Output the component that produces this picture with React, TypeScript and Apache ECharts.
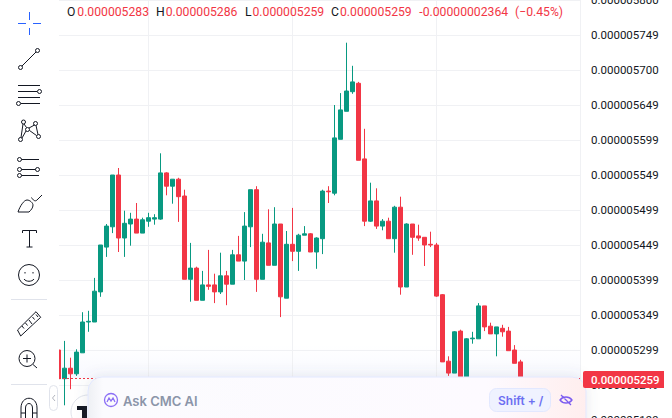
import * as echarts from 'echarts';
import React, { useEffect, useRef } from 'react';

// prices are in units of 0.000000001
const opens = [
  5300, 5259, 5274, 5266, 5296, 5340, 5340, 5383, 5447, 5476, 5550, 5460, 5480, 5487, 5467, 5484,
  5487, 5487, 5553, 5534, 5544, 5520, 5401, 5417, 5371, 5393, 5393, 5383, 5406, 5394, 5436, 5427,
  5476, 5529, 5401, 5453, 5421, 5480, 5374, 5451, 5441, 5464, 5466, 5440, 5459, 5527, 5524, 5601,
  5641, 5669, 5681, 5573, 5484, 5513, 5477, 5484, 5459, 5504, 5390, 5480, 5463, 5461, 5451, 5450,
  5379, 5284, 5267, 5327, 5261, 5316, 5316, 5363, 5334, 5323, 5331, 5327, 5300, 5283,
];
const closes = [
  5259, 5274, 5266, 5297, 5340, 5341, 5384, 5450, 5477, 5550, 5460, 5481, 5487, 5467, 5486, 5489,
  5489, 5553, 5534, 5544, 5519, 5401, 5417, 5371, 5393, 5391, 5383, 5406, 5394, 5436, 5427, 5477,
  5529, 5401, 5454, 5421, 5480, 5376, 5451, 5441, 5464, 5466, 5440, 5460, 5527, 5526, 5603, 5643,
  5670, 5683, 5571, 5484, 5513, 5477, 5484, 5459, 5504, 5390, 5480, 5461, 5460, 5450, 5450, 5377,
  5283, 5267, 5326, 5261, 5316, 5317, 5363, 5333, 5323, 5333, 5326, 5299, 5281, 5259,
];
const lows = [
  5258, 5221, 5244, 5263, 5296, 5326, 5340, 5376, 5433, 5467, 5440, 5433, 5449, 5467, 5467, 5476,
  5479, 5486, 5521, 5509, 5483, 5401, 5369, 5371, 5371, 5386, 5367, 5380, 5364, 5394, 5427, 5400,
  5447, 5383, 5401, 5421, 5421, 5347, 5374, 5427, 5413, 5464, 5440, 5416, 5437, 5510, 5521, 5601,
  5641, 5666, 5571, 5477, 5483, 5473, 5471, 5459, 5439, 5379, 5390, 5436, 5456, 5420, 5447, 5376,
  5283, 5263, 5267, 5260, 5260, 5309, 5316, 5327, 5323, 5291, 5319, 5299, 5281, 5259,
];
const highs = [
  5300, 5313, 5289, 5301, 5354, 5356, 5403, 5450, 5480, 5550, 5560, 5499, 5496, 5510, 5489, 5496,
  5494, 5581, 5554, 5544, 5546, 5529, 5453, 5419, 5413, 5443, 5409, 5439, 5413, 5443, 5463, 5497,
  5529, 5534, 5466, 5501, 5504, 5480, 5470, 5503, 5466, 5477, 5467, 5461, 5529, 5534, 5650, 5667,
  5739, 5706, 5683, 5616, 5539, 5531, 5487, 5489, 5506, 5519, 5481, 5480, 5479, 5461, 5469, 5453,
  5380, 5291, 5327, 5329, 5317, 5326, 5367, 5363, 5339, 5333, 5336, 5333, 5307, 5286,
];
const yTickLabels = [
  '0.000005800', '0.000005749', '0.000005700', '0.000005649', '0.000005599', '0.000005549', '0.000005499',
  '0.000005449', '0.000005399', '0.000005349', '0.000005299', '0.000005249', '0.000005199',
];
const timeLines = [15, 39, 63];
const lastPrice = 5259;
const legendItems = [
  { key: 'O', value: '0.000005283', x: 67, valueX: 77.3 },
  { key: 'H', value: '0.000005286', x: 156, valueX: 165.7 },
  { key: 'L', value: '0.000005259', x: 245, valueX: 252.5 },
  { key: 'C', value: '0.000005259', x: 331, valueX: 340 },
];
const changeText = '-0.00000002364';
const changePct = '(−0.45%)';

const GREEN = '#089981';
const RED = '#f23645';
const INK = '#131722';
const GRID = '#f0f1f4';
const FONT = 'Roboto';

const ring = (cx: number, cy: number, r: number) =>
  `M${cx - r} ${cy}a${r} ${r} 0 1 0 ${2 * r} 0a${r} ${r} 0 1 0 ${-2 * r} 0`;

const iconPaths: Record<string, string> = {
  tvCross: 'M18 23.5H26M33 23.5H41M29.5 12V20M29.5 28V35',
  tvTrend: `${ring(20.5, 67.5, 2)}${ring(37.5, 50.5, 2)}M22 66L36 52`,
  tvLines: `M18 85.5H40M18 91.5H37M18 97.5H40M21 103.5H40${ring(39.5, 91.5, 2)}${ring(18.5, 103.5, 2)}`,
  tvPattern: `${ring(23.5, 122, 2)}${ring(35.5, 123.5, 2)}${ring(20.5, 139.5, 2)}${ring(38.5, 136.5, 2)}${ring(27.5, 129.5, 2)}M23 124L21 137.5M24 124L26.5 127.5M29 128L34.5 125M36 125.5L38 134.5M29.5 130.5L36.5 135.5M22 138L26 131`,
  tvFib: `${ring(19.5, 159.5, 2)}${ring(19.5, 169.5, 2)}${ring(19.5, 175.5, 2)}${ring(37.5, 169.5, 2)}M21.5 159.5H39M21.5 169.5H35.5M21.5 175.5H39`,
  tvBrush: 'M18 212C20 206 24 200 27 200C30 200 33 203 33 205C33 208 31 210 29 212ZM31.5 197.5C33 200 35 202 37 200L42 195',
  tvText: 'M22.5 233V230.5H36.5V233M29.5 230.5V247M26.5 247H32.5',
  tvSmile: `${ring(29, 275, 10.5)}M24 279C26 282 32 282 34 279M25 272V273.5M33 272V273.5`,
  tvRuler: 'M17.5 330L36 311.7L40.7 317.3L20.7 336ZM22 326L24 328.5M25.5 323L27.5 325.5M29 320L32 324M32.5 317L34.5 319.5M36 314.5L38 317',
  tvZoom: `${ring(27, 358.5, 8)}M33 364.5L37 368M27 354.5V362.5M23 358.5H31`,
  tvMagnet: 'M21 418V408C21 395 37 395 37 408V418M21 413H25.5M32.5 413H37M25.5 418V408C25.5 402 32.5 402 32.5 408V418',
  cmcEye: 'M560 400C563 396 569 396 572 400C569 404 563 404 560 400ZM561 395L571 405',
  cmcBubble: `${ring(111, 400, 6.5)}M107 402L109 398L111 401L113 398L115 402`,
};
Object.keys(iconPaths).forEach((name) => {
  echarts.graphic.registerShape(name, echarts.graphic.extendPath(iconPaths[name], {}));
});

const legendGraphics = legendItems.flatMap((item) => [
  {
    type: 'text', x: item.x, y: 12, z: 15,
    style: { text: item.key, fill: INK, font: `12.2px ${FONT}`, verticalAlign: 'middle' },
  },
  {
    type: 'text', x: item.valueX, y: 12, z: 15,
    style: { text: item.value, fill: RED, font: `12.2px ${FONT}`, verticalAlign: 'middle' },
  },
]);

const toolbar = Object.keys(iconPaths)
  .filter((name) => name.startsWith('tv'))
  .map((name) => ({
    type: name, x: 0, y: 0, z: 12,
    style: { fill: 'none', stroke: name === 'tvCross' ? '#2962ff' : INK, lineWidth: 1 },
  }));

const option: echarts.EChartsOption = {
  animation: false,
  backgroundColor: '#ffffff',
  grid: { left: 59, top: 0, width: 521, height: 420, outerBoundsMode: 'none' },
  xAxis: {
    type: 'value',
    min: (59 - 58.5) / 6,
    max: (580 - 58.5) / 6,
    axisLine: { show: false },
    axisLabel: { show: false },
    axisTick: { show: false, customValues: timeLines },
    splitLine: { show: true, lineStyle: { color: GRID, width: 1 } },
  },
  yAxis: {
    type: 'value',
    position: 'right',
    min: 5200,
    max: 5800,
    interval: 50,
    axisLine: { show: true, lineStyle: { color: GRID } },
    axisTick: { show: false },
    axisLabel: {
      margin: 11,
      color: INK,
      fontFamily: FONT,
      fontSize: 11.5,
      formatter: (v: number) => yTickLabels[Math.round((5800 - v) / 50)],
    },
    splitLine: { show: true, lineStyle: { color: GRID, width: 1 } },
  },
  series: [
    {
      type: 'candlestick',
      barWidth: 4,
      encode: { x: 0, y: [1, 2, 3, 4] },
      data: opens.map((o, i) => [i, o, closes[i], lows[i], highs[i]]),
      itemStyle: {
        color: GREEN,
        color0: RED,
        borderColor: GREEN,
        borderColor0: RED,
        borderWidth: 1,
      },
      markLine: {
        silent: true,
        symbol: 'none',
        label: { show: false },
        lineStyle: { color: RED, type: [2, 2], width: 1 },
        data: [{ yAxis: lastPrice }],
      },
    },
  ],
  graphic: [
    // faint wash above the floating panel
    {
      type: 'rect', z: 0,
      shape: { x: 59, y: 345, width: 521, height: 33 },
      style: {
        fill: {
          type: 'linear', x: 0, y: 0, x2: 0, y2: 1,
          colorStops: [
            { offset: 0, color: 'rgba(240,243,255,0)' },
            { offset: 1, color: 'rgba(240,243,255,0.5)' },
          ],
        },
      },
    },
    // left toolbar
    { type: 'rect', z: 10, shape: { x: 0, y: 0, width: 59, height: 418 }, style: { fill: '#ffffff' } },
    { type: 'line', z: 12, shape: { x1: 11, y1: 299.5, x2: 47, y2: 299.5 }, style: { stroke: '#e0e3eb', lineWidth: 1 } },
    { type: 'line', z: 12, shape: { x1: 11, y1: 384.5, x2: 47, y2: 384.5 }, style: { stroke: '#e0e3eb', lineWidth: 1 } },
    ...toolbar,
    {
      type: 'rect', z: 12,
      shape: { x: 49.5, y: 385.5, width: 8, height: 25, r: 4 },
      style: { fill: '#ffffff', stroke: '#e0e3eb', lineWidth: 1 },
    },
    {
      type: 'polyline', z: 13,
      shape: { points: [[55, 395], [52.5, 398], [55, 401]] },
      style: { fill: 'none', stroke: '#b2b5be', lineWidth: 1 },
    },
    // chart logo, mostly hidden behind the panel
    {
      type: 'circle', z: 14,
      shape: { cx: 88, cy: 412, r: 17 },
      style: { fill: '#ffffff', stroke: '#e0e3eb', lineWidth: 1 },
    },
    {
      type: 'polygon', z: 15,
      shape: { points: [[77, 406], [87, 406], [87, 418], [82, 418], [82, 410], [77, 410]] },
      style: { fill: INK },
    },
    // legend row
    ...legendGraphics,
    {
      type: 'text', x: 419.3, y: 12, z: 15,
      style: { text: changeText, fill: RED, font: `12.2px ${FONT}`, verticalAlign: 'middle' },
    },
    {
      type: 'text', x: 515, y: 12, z: 15,
      style: { text: changePct, fill: RED, font: `12.2px ${FONT}`, verticalAlign: 'middle' },
    },
    // Ask CMC AI panel
    {
      type: 'rect', z: 20,
      shape: { x: 88, y: 377, width: 498, height: 60, r: 14 },
      style: {
        fill: {
          type: 'linear', x: 0, y: 0, x2: 1, y2: 0,
          colorStops: [
            { offset: 0, color: '#eef0f4' },
            { offset: 0.03, color: '#fbfbfe' },
            { offset: 0.8, color: '#fdfaff' },
            { offset: 1, color: '#ffeeee' },
          ],
        },
        stroke: '#e2e8ff',
        lineWidth: 1,
        shadowBlur: 14,
        shadowColor: 'rgba(88,102,126,0.14)',
      },
    },
    {
      type: 'cmcBubble', x: 0, y: 0, z: 21,
      style: { fill: 'none', stroke: '#8b6ff5', lineWidth: 1.3 },
    },
    {
      type: 'text', x: 123, y: 401, z: 21,
      style: { text: 'Ask CMC AI', fill: '#8b95a9', font: '600 13px Inter', verticalAlign: 'middle' },
    },
    {
      type: 'rect', z: 21,
      shape: { x: 489.5, y: 388.5, width: 61, height: 23, r: 7 },
      style: { fill: '#eff2ff', stroke: '#e2e8ff', lineWidth: 1 },
    },
    {
      type: 'text', x: 498, y: 400, z: 22,
      style: { text: 'Shift + /', fill: '#6c6ff2', font: '600 12px Inter', verticalAlign: 'middle' },
    },
    {
      type: 'cmcEye', x: 0, y: 0, z: 21,
      style: { fill: 'none', stroke: '#7c5cf0', lineWidth: 1.3 },
    },
    // last price tag
    {
      type: 'rect', z: 30,
      shape: { x: 583, y: 371, width: 81, height: 17, r: [2, 0, 0, 2] },
      style: { fill: RED },
    },
    {
      type: 'text', x: 591, y: 380, z: 31,
      style: { text: '0.000005259', fill: '#ffffff', font: `500 11.5px ${FONT}`, verticalAlign: 'middle' },
    },
  ],
};

const App: React.FC = () => {
  const chartRef = useRef<HTMLDivElement>(null);

  useEffect(() => {
    if (chartRef.current) {
      const instance = echarts.init(chartRef.current, undefined, { renderer: 'svg' });
      instance.setOption(option);

      return () => {
        instance.dispose();
      };
    }
  }, []);

  return <div ref={chartRef} style={{ position: 'fixed', left: 0, top: 0, width: 672, height: 418 }} />;
};

export default App;
